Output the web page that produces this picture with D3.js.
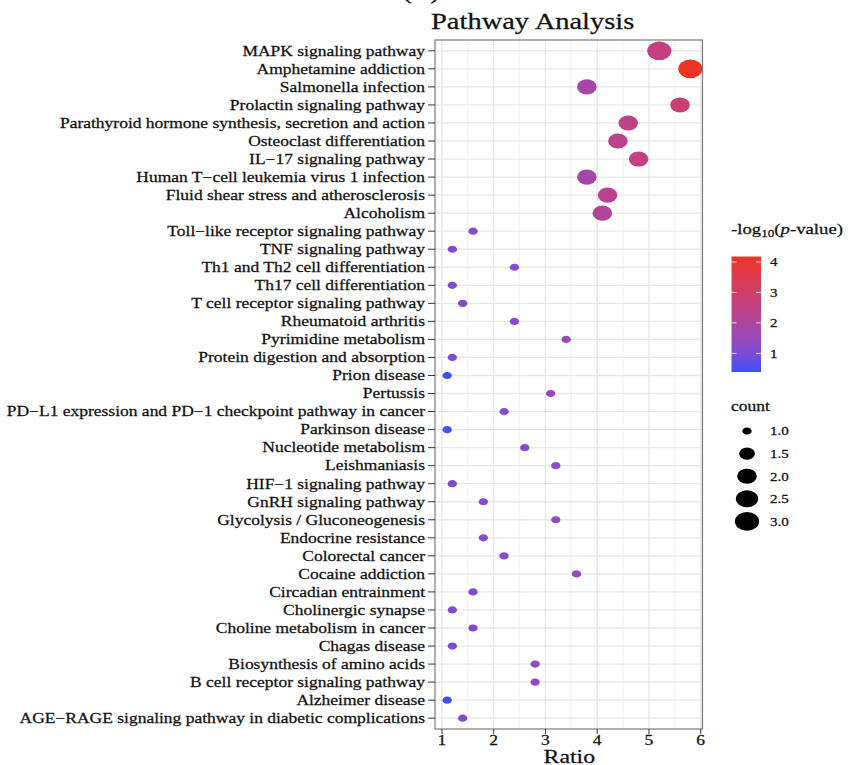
<!DOCTYPE html>
<html>
<head>
<meta charset="utf-8">
<script src="https://cdn.jsdelivr.net/npm/d3@7/dist/d3.min.js"></script>
<style>
  body { margin: 0; background: #fff; }
  svg { display: block; }
  text { font-family: "Liberation Serif", "Times New Roman", serif; fill: #111; stroke: #111; stroke-width: 0.25px; }
</style>
</head>
<body>
<svg id="chart" width="848" height="765"></svg>
<script>
// KEGG pathway enrichment, top to bottom
const pathways = [
  "MAPK signaling pathway",
  "Amphetamine addiction",
  "Salmonella infection",
  "Prolactin signaling pathway",
  "Parathyroid hormone synthesis, secretion and action",
  "Osteoclast differentiation",
  "IL\u221217 signaling pathway",
  "Human T\u2212cell leukemia virus 1 infection",
  "Fluid shear stress and atherosclerosis",
  "Alcoholism",
  "Toll\u2212like receptor signaling pathway",
  "TNF signaling pathway",
  "Th1 and Th2 cell differentiation",
  "Th17 cell differentiation",
  "T cell receptor signaling pathway",
  "Rheumatoid arthritis",
  "Pyrimidine metabolism",
  "Protein digestion and absorption",
  "Prion disease",
  "Pertussis",
  "PD\u2212L1 expression and PD\u22121 checkpoint pathway in cancer",
  "Parkinson disease",
  "Nucleotide metabolism",
  "Leishmaniasis",
  "HIF\u22121 signaling pathway",
  "GnRH signaling pathway",
  "Glycolysis / Gluconeogenesis",
  "Endocrine resistance",
  "Colorectal cancer",
  "Cocaine addiction",
  "Circadian entrainment",
  "Cholinergic synapse",
  "Choline metabolism in cancer",
  "Chagas disease",
  "Biosynthesis of amino acids",
  "B cell receptor signaling pathway",
  "Alzheimer disease",
  "AGE\u2212RAGE signaling pathway in diabetic complications"
];

const ratio = [
  5.2, 5.8, 3.8, 5.6, 4.6, 4.4, 4.8, 3.8, 4.2, 4.1,
  1.6, 1.2, 2.4, 1.2, 1.4, 2.4, 3.4, 1.2, 1.1, 3.1,
  2.2, 1.1, 2.6, 3.2, 1.2, 1.8, 3.2, 1.8, 2.2, 3.6,
  1.6, 1.2, 1.6, 1.2, 2.8, 2.8, 1.1, 1.4
];

const count = [
  3, 3, 2, 2, 2, 2, 2, 2, 2, 2,
  1, 1, 1, 1, 1, 1, 1, 1, 1, 1,
  1, 1, 1, 1, 1, 1, 1, 1, 1, 1,
  1, 1, 1, 1, 1, 1, 1, 1
];

// -log10(p-value)
const logP = [
  2.6, 4.18, 1.8, 2.8, 2.5, 2.3, 2.6, 1.8, 2.3, 2.05,
  1.15, 1.05, 1.2, 1.05, 1.1, 1.2, 1.5, 1.05, 0.39, 1.35,
  1.2, 0.45, 1.25, 1.35, 1.05, 1.15, 1.35, 1.15, 1.2, 1.55,
  1.1, 1.05, 1.1, 1.05, 1.3, 1.3, 0.42, 1.1
];

const xTicks = [1, 2, 3, 4, 5, 6];
const xMinorTicks = [1.5, 2.5, 3.5, 4.5, 5.5];
const colourTicks = [1, 2, 3, 4];
const sizeBreaks = [1.0, 1.5, 2.0, 2.5, 3.0];

const rows = pathways.map((name, i) => ({ name, ratio: ratio[i], count: count[i], logP: logP[i] }));

// the figure is drawn wider than tall: text and dots are stretched horizontally
const SX = 1.25;
const DOT_SX = 1.3;

const svg = d3.select("#chart");
const panel = { left: 435, right: 702.5, top: 40, bottom: 729 };

const x = d3.scaleLinear().domain([0.865, 6.035]).range([panel.left, panel.right]);
const y = d3.scalePoint().domain(pathways).range([panel.top, panel.bottom]).padding(0.6);
const colour = d3.scaleLinear()
  .domain(d3.extent(logP))
  .range(["#3A50F8", "#EC3526"])
  .interpolate(d3.interpolateLab);
const size = d3.scalePow().exponent(-0.5).domain([1, 3]).range([3.6, 9.3]);

function stretchedText(g, tx, ty, str, opts = {}) {
  const t = g.append("text")
    .attr("transform", `translate(${tx},${ty}) scale(${SX},1)`)
    .attr("text-anchor", opts.anchor || "start")
    .style("font-size", (opts.size || 14) + "px")
    .text(str);
  if (opts.weight) t.style("font-weight", opts.weight);
  return t;
}

// cut-off panel tag above the title
stretchedText(svg, 421, -1, "(B)", { size: 22, anchor: "middle" });

// title
stretchedText(svg, 431, 29, "Pathway Analysis", { size: 22.8 });

// panel background and grid
const grid = svg.append("g");
grid.append("rect")
  .attr("x", panel.left).attr("y", panel.top)
  .attr("width", panel.right - panel.left).attr("height", panel.bottom - panel.top)
  .attr("fill", "#fff");
grid.selectAll("line.minor").data(xMinorTicks).join("line")
  .attr("x1", d => x(d)).attr("x2", d => x(d))
  .attr("y1", panel.top).attr("y2", panel.bottom)
  .attr("stroke", "#f2f2f2").attr("stroke-width", 1);
grid.selectAll("line.majorx").data(xTicks).join("line")
  .attr("x1", d => x(d)).attr("x2", d => x(d))
  .attr("y1", panel.top).attr("y2", panel.bottom)
  .attr("stroke", "#e8e8e8").attr("stroke-width", 1.3);
grid.selectAll("line.majory").data(pathways).join("line")
  .attr("x1", panel.left).attr("x2", panel.right)
  .attr("y1", d => y(d)).attr("y2", d => y(d))
  .attr("stroke", "#e8e8e8").attr("stroke-width", 1.3);

// dots
svg.append("g").selectAll("ellipse").data(rows).join("ellipse")
  .attr("cx", d => x(d.ratio))
  .attr("cy", d => y(d.name))
  .attr("rx", d => size(d.count) * DOT_SX)
  .attr("ry", d => size(d.count))
  .attr("fill", d => colour(d.logP));

// panel border
svg.append("rect")
  .attr("x", panel.left).attr("y", panel.top)
  .attr("width", panel.right - panel.left).attr("height", panel.bottom - panel.top)
  .attr("fill", "none").attr("stroke", "#7a7a7a").attr("stroke-width", 1.2);

// y axis
const yAxis = svg.append("g");
yAxis.selectAll("line").data(pathways).join("line")
  .attr("x1", panel.left - 7).attr("x2", panel.left)
  .attr("y1", d => y(d)).attr("y2", d => y(d))
  .attr("stroke", "#333").attr("stroke-width", 1);
pathways.forEach(p => stretchedText(yAxis, panel.left - 10, y(p) + 4.8, p, { size: 14, anchor: "end" }));

// x axis
const xAxis = svg.append("g");
xAxis.selectAll("line").data(xTicks).join("line")
  .attr("x1", d => x(d)).attr("x2", d => x(d))
  .attr("y1", panel.bottom).attr("y2", panel.bottom + 5)
  .attr("stroke", "#333").attr("stroke-width", 1);
xTicks.forEach(t => stretchedText(xAxis, x(t), 744.5, d3.format("d")(t), { size: 14, anchor: "middle" }));
stretchedText(svg, x(3.5) - 2, 763, "Ratio", { size: 19, anchor: "middle" });

// colour legend
const cl = svg.append("g");
const cbar = { x: 731.5, w: 29.5, top: 256.5, bottom: 372 };
const [vMin, vMax] = colour.domain();
const cy = d3.scaleLinear().domain([vMin, vMax]).range([cbar.bottom, cbar.top]);
const defs = svg.append("defs");
const grad = defs.append("linearGradient").attr("id", "cgrad")
  .attr("x1", 0).attr("y1", 1).attr("x2", 0).attr("y2", 0);
d3.range(0, 1.0001, 0.1).forEach(t => {
  grad.append("stop").attr("offset", t).attr("stop-color", colour(vMin + t * (vMax - vMin)));
});
cl.append("rect")
  .attr("x", cbar.x).attr("y", cbar.top)
  .attr("width", cbar.w).attr("height", cbar.bottom - cbar.top)
  .attr("fill", "url(#cgrad)");
colourTicks.forEach(v => {
  cl.append("line").attr("x1", cbar.x).attr("x2", cbar.x + 5)
    .attr("y1", cy(v)).attr("y2", cy(v)).attr("stroke", "#fff").attr("stroke-opacity", 0.8);
  cl.append("line").attr("x1", cbar.x + cbar.w - 5).attr("x2", cbar.x + cbar.w)
    .attr("y1", cy(v)).attr("y2", cy(v)).attr("stroke", "#fff").attr("stroke-opacity", 0.8);
  stretchedText(cl, 770, cy(v) + 4.3, String(v), { size: 12 });
});
const ct = cl.append("text")
  .attr("transform", `translate(731,234) scale(${SX},1)`)
  .style("font-size", "15px");
ct.append("tspan").text("-log");
ct.append("tspan").attr("dy", 3).style("font-size", "10.5px").text("10");
ct.append("tspan").attr("dy", -3).text("(");
ct.append("tspan").style("font-style", "italic").text("p");
ct.append("tspan").text("-value)");

// size legend
const sl = svg.append("g");
stretchedText(sl, 731, 411, "count", { size: 14 });
sizeBreaks.forEach((b, i) => {
  const yy = 431 + i * 22.6;
  sl.append("ellipse")
    .attr("cx", 747).attr("cy", yy)
    .attr("rx", size(b) * DOT_SX).attr("ry", size(b))
    .attr("fill", "#000");
  stretchedText(sl, 770, yy + 4.3, d3.format(".1f")(b), { size: 12 });
});
</script>
</body>
</html>
